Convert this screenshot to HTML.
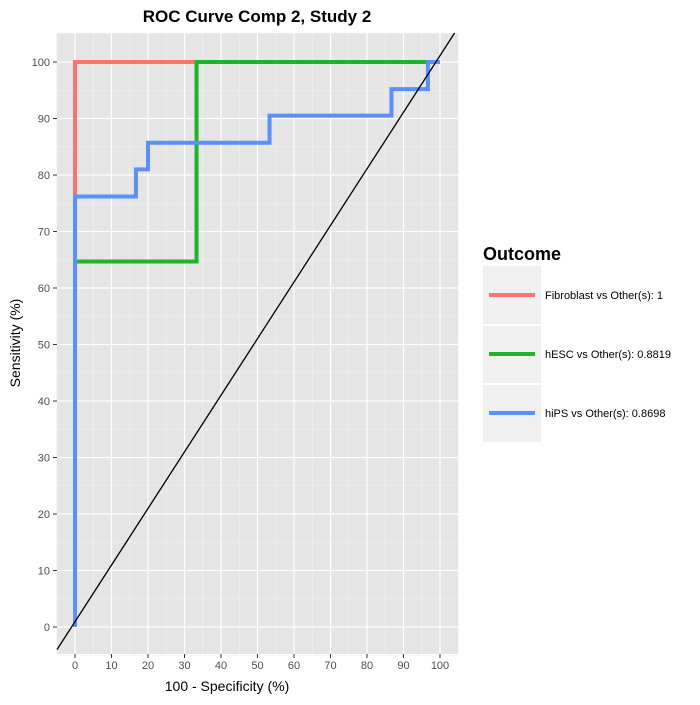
<!DOCTYPE html>
<html><head><meta charset="utf-8"><style>
body{margin:0;background:#fff;}
svg text{font-family:"Liberation Sans",Arial,sans-serif;}
</style></head><body>
<svg id="chart" width="700" height="700" xmlns="http://www.w3.org/2000/svg">
<rect width="700" height="700" fill="#fff"/>
<text x="257" y="22" text-anchor="middle" font-size="17" font-weight="bold" fill="#000">ROC Curve Comp 2, Study 2</text>
<rect x="57" y="33" width="401" height="621" fill="#E5E5E5"/>
<g id="grid"></g>
<g id="series"></g>
<g id="axes"></g>
<text x="227" y="691" text-anchor="middle" font-size="14" fill="#000">100 - Specificity (%)</text>
<text transform="translate(20,343) rotate(-90)" text-anchor="middle" font-size="14" fill="#000">Sensitivity (%)</text>
<g>
<text x="483" y="260" font-size="18" font-weight="bold" fill="#000">Outcome</text>
<rect x="483" y="266" width="58" height="176" fill="#F0F0F0"/>
<line x1="483" y1="325" x2="541" y2="325" stroke="#fff" stroke-width="2"/>
<line x1="483" y1="384" x2="541" y2="384" stroke="#fff" stroke-width="2"/>
<g><line x1="489" y1="295" x2="535" y2="295" stroke="#F8766D" stroke-width="4"/><text x="545" y="299" font-size="11">Fibroblast vs Other(s): 1</text></g>
<g><line x1="489" y1="354" x2="535" y2="354" stroke="#1DB52B" stroke-width="4"/><text x="545" y="358" font-size="11">hESC vs Other(s): 0.8819</text></g>
<g><line x1="489" y1="413" x2="535" y2="413" stroke="#5B8FF9" stroke-width="4"/><text x="545" y="417" font-size="11">hiPS vs Other(s): 0.8698</text></g>
</g>
</svg>
<script>
const fibX=[0,0,100];
const fibY=[0,100,100];
const hescX=[0,0,33.3,33.3,100];
const hescY=[0,64.7,64.7,100,100];
const hipsX=[0,0,16.7,16.7,20,20,53.3,53.3,86.7,86.7,96.7,96.7,100];
const hipsY=[0,76.2,76.2,81,81,85.7,85.7,90.5,90.5,95.2,95.2,100,100];
const xTicks=[0,10,20,30,40,50,60,70,80,90,100];
const yTicks=[0,10,20,30,40,50,60,70,80,90,100];
const NS="http://www.w3.org/2000/svg";
const L=57,R=458,T=33,B=654;
function sx(v){return 75+v*3.65;}
function sy(v){return 627-v*5.65;}
function mk(tag,attrs,parent){const e=document.createElementNS(NS,tag);for(const k in attrs)e.setAttribute(k,attrs[k]);parent.appendChild(e);return e;}
const grid=document.getElementById('grid'),axes=document.getElementById('axes'),ser=document.getElementById('series');
for(let v=-5;v<=105;v+=10){
 const m=mk('line',{x1:sx(v),x2:sx(v),y1:T,y2:B,stroke:'#F2F2F2','stroke-width':0.6},grid);
 
 const n=mk('line',{x1:L,x2:R,y1:sy(v),y2:sy(v),stroke:'#F2F2F2','stroke-width':0.6},grid);
 
}
xTicks.forEach(v=>{
 const g=mk('line',{x1:sx(v),x2:sx(v),y1:T,y2:B,stroke:'#fff','stroke-width':1.2},grid);
 
 mk('line',{x1:sx(v),x2:sx(v),y1:B,y2:B+4,stroke:'#333','stroke-width':1},axes);
 const t=mk('text',{x:sx(v),y:B+15,'text-anchor':'middle','font-size':11,fill:'#4D4D4D'},axes);t.textContent=v;
 
});
yTicks.forEach(v=>{
 const g=mk('line',{x1:L,x2:R,y1:sy(v),y2:sy(v),stroke:'#fff','stroke-width':1.2},grid);
 
 mk('line',{x1:L-4,x2:L,y1:sy(v),y2:sy(v),stroke:'#333','stroke-width':1},axes);
 const t=mk('text',{x:L-7,y:sy(v)+4,'text-anchor':'end','font-size':11,fill:'#4D4D4D'},axes);t.textContent=v;
 
});
function path(xs,ys,col,name){
 const d=xs.map((x,i)=>(i?'L':'M')+sx(x)+','+sy(ys[i])).join(' ');
 const p=mk('path',{d:d,fill:'none',stroke:col,'stroke-width':4},ser);
 
}
path(fibX,fibY,'#F8766D','fibroblast-roc-line');
path(hescX,hescY,'#1DB52B','hesc-roc-line');
path(hipsX,hipsY,'#5B8FF9','hips-roc-line');
const dg=mk('line',{x1:L,y1:sy(-5+1),x2:sx((105-1)),y2:T,stroke:'#000','stroke-width':1.3},ser);


</script>
</body></html>
